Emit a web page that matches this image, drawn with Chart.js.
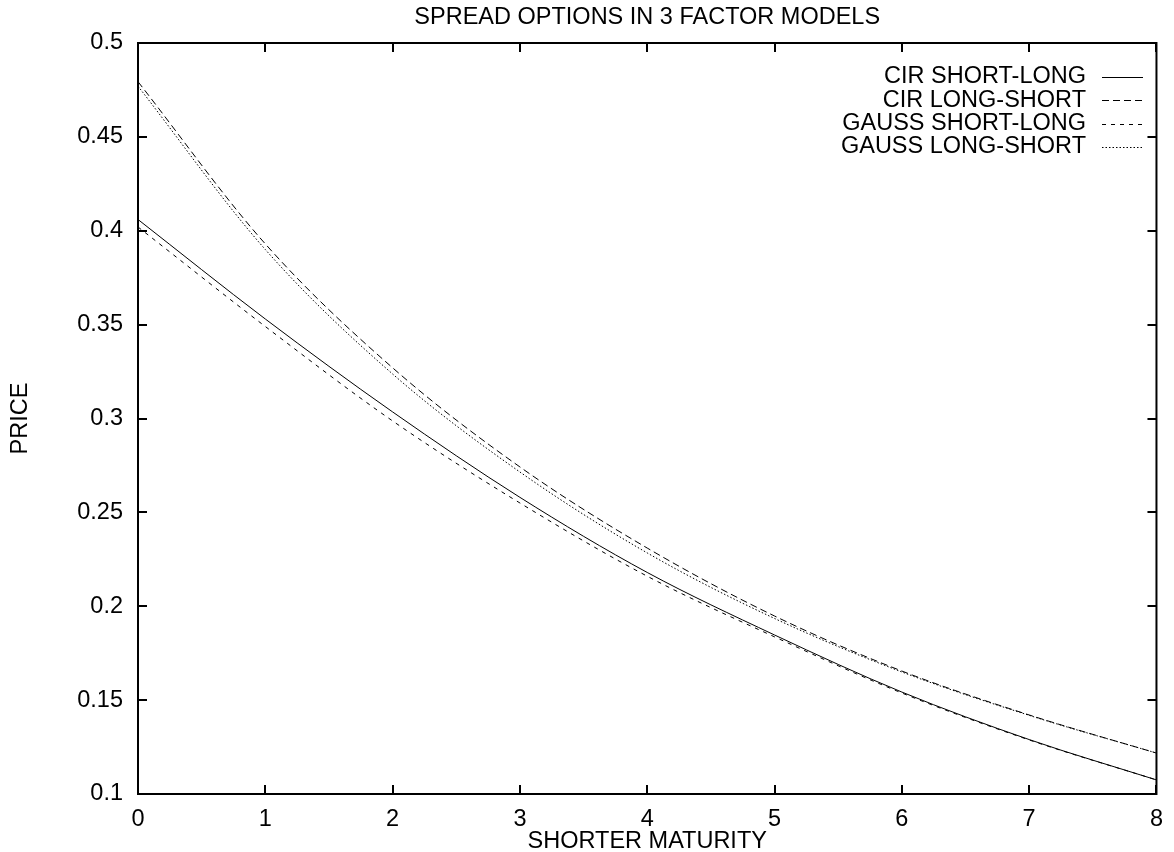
<!DOCTYPE html>
<html>
<head>
<meta charset="utf-8">
<script src="https://cdn.jsdelivr.net/npm/chart.js@4/dist/chart.umd.min.js"></script>
<style>
  html, body { margin: 0; padding: 0; background: #fff; }
  #wrap { width: 1174px; height: 852px; }
</style>
</head>
<body>
<div id="wrap"><canvas id="c" width="1174" height="852"></canvas></div>
<script>
// ---- data ----
const maturities = [0, 1, 2, 3, 4, 5, 6, 7, 8];
const cirShortLong   = [0.406, 0.353, 0.3035, 0.258, 0.218, 0.1847, 0.1543, 0.129, 0.1075];
const cirLongShort   = [0.4794, 0.393, 0.327, 0.2742, 0.231, 0.1948, 0.1655, 0.1421, 0.1218];
const gaussShortLong = [0.402, 0.349, 0.2987, 0.255, 0.216, 0.1837, 0.1538, 0.1288, 0.1075];
const gaussLongShort = [0.477, 0.390, 0.3237, 0.2715, 0.2284, 0.1935, 0.1650, 0.1419, 0.1218];
const seriesLabels = ['CIR SHORT-LONG', 'CIR LONG-SHORT', 'GAUSS SHORT-LONG', 'GAUSS LONG-SHORT'];
const yTicks = [0.1, 0.15, 0.2, 0.25, 0.3, 0.35, 0.4, 0.45, 0.5];
const xTicks = [0, 1, 2, 3, 4, 5, 6, 7, 8];
const chartTitle = 'SPREAD OPTIONS IN 3 FACTOR MODELS';
const xTitle = 'SHORTER MATURITY';
const yTitle = 'PRICE';

const FONT = '"Liberation Sans", Arial, Helvetica, sans-serif';
const FS = 23.5;
const dashes = [[], [7, 4], [4, 5], [1.5, 2]];
const seriesValues = [cirShortLong, cirLongShort, gaussShortLong, gaussLongShort];

const datasets = seriesValues.map((vals, i) => ({
  label: seriesLabels[i],
  data: maturities.map((m, j) => ({ x: m, y: vals[j] })),
  borderColor: '#000',
  borderWidth: 1,
  borderDash: dashes[i],
  pointRadius: 0,
  fill: false,
  cubicInterpolationMode: 'monotone'
}));

const framePlugin = {
  id: 'frame',
  afterDatasetsDraw(chart) {
    const { ctx, chartArea: a, scales } = chart;
    ctx.save();
    ctx.strokeStyle = '#000';
    ctx.lineWidth = 2;
    ctx.strokeRect(a.left, a.top, a.right - a.left, a.bottom - a.top);
    const TL = 9;
    ctx.beginPath();
    yTicks.forEach(v => {
      const y = Math.round(scales.y.getPixelForValue(v));
      ctx.moveTo(a.left, y); ctx.lineTo(a.left + TL, y);
      ctx.moveTo(a.right, y); ctx.lineTo(a.right - TL, y);
    });
    xTicks.forEach(v => {
      const x = Math.round(scales.x.getPixelForValue(v));
      ctx.moveTo(x, a.bottom); ctx.lineTo(x, a.bottom - TL);
      ctx.moveTo(x, a.top); ctx.lineTo(x, a.top + TL);
    });
    ctx.stroke();
    ctx.restore();
  },
  afterDraw(chart) {
    const { ctx } = chart;
    ctx.save();
    ctx.font = FS + 'px ' + FONT;
    ctx.fillStyle = '#000';
    ctx.textAlign = 'right';
    ctx.textBaseline = 'middle';
    chart.data.datasets.forEach((ds, i) => {
      const y = 77 + i * 23.3;
      ctx.fillText(ds.label, 1086, y);
      ctx.beginPath();
      ctx.setLineDash(ds.borderDash || []);
      ctx.lineWidth = 1;
      ctx.strokeStyle = '#000';
      ctx.moveTo(1102, Math.round(y) + 0.5);
      ctx.lineTo(1143, Math.round(y) + 0.5);
      ctx.stroke();
    });
    ctx.restore();
  }
};

new Chart(document.getElementById('c'), {
  type: 'line',
  data: { datasets },
  plugins: [framePlugin],
  options: {
    responsive: false,
    animation: false,
    devicePixelRatio: 1,
    layout: { padding: { top: 0, right: 8, left: 0, bottom: 0 } },
    plugins: {
      legend: { display: false },
      tooltip: { enabled: false },
      title: {
        display: true,
        text: chartTitle,
        fullSize: false,
        color: '#000',
        font: { family: FONT, size: FS, weight: 'normal', lineHeight: 1.2 },
        padding: { top: 3.9, bottom: 10.9 }
      }
    },
    scales: {
      x: {
        type: 'linear',
        min: 0, max: 8,
        afterFit(s) { s.height = 58; },
        afterBuildTicks(s) { s.ticks = xTicks.map(v => ({ value: v })); },
        grid: { display: false, drawTicks: false },
        border: { display: false },
        ticks: { color: '#000', padding: 11, font: { family: FONT, size: FS }, maxRotation: 0,
                 callback: v => String(v) },
        title: { display: true, text: xTitle, color: '#000',
                 font: { family: FONT, size: FS, lineHeight: 0.85 }, padding: { top: 0, bottom: 0 } }
      },
      y: {
        type: 'linear',
        min: 0.1, max: 0.5,
        afterFit(s) { s.width = 138; },
        afterBuildTicks(s) { s.ticks = yTicks.map(v => ({ value: v })); },
        grid: { display: false, drawTicks: false },
        border: { display: false },
        ticks: { color: '#000', padding: 15, font: { family: FONT, size: FS },
                 callback: v => String(+Number(v).toFixed(2)) },
        title: { display: true, text: yTitle, color: '#000',
                 font: { family: FONT, size: FS, lineHeight: 1.2 }, padding: { top: 6, bottom: 0 } }
      }
    }
  }
});
</script>
</body>
</html>
